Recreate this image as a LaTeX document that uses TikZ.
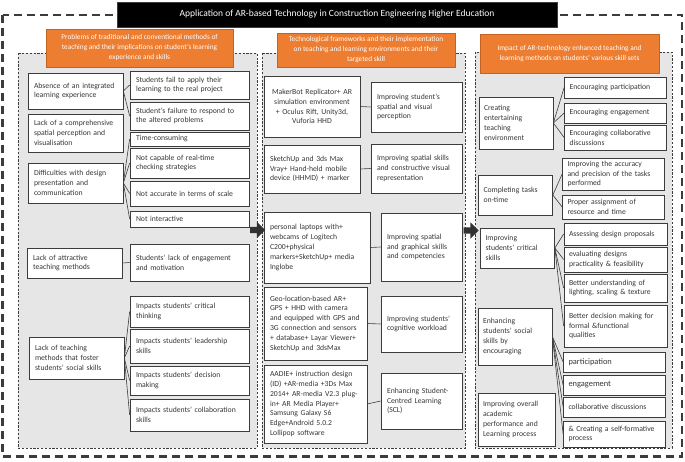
\documentclass[tikz,border=0pt]{standalone}
\usepackage{fontspec}
\setmainfont{Carlito}
\usepackage{tikz}
\usetikzlibrary{shapes.arrows,positioning}
\definecolor{cOrange}{RGB}{237,125,49}
\definecolor{cOrangeDk}{RGB}{196,98,34}
\definecolor{cPanel}{RGB}{231,230,230}
\definecolor{cLine}{RGB}{60,60,60}
\definecolor{cText}{RGB}{55,55,55}
\definecolor{cArrow}{RGB}{50,50,50}
\tikzset{
  cellbox/.style={rectangle,draw=cLine,fill=white,line width=0.7pt,text=cText,
                  align=left,inner xsep=6pt,inner ysep=1pt,
                  font=\fontsize{7.7}{9.8}\selectfont},
  probL/.style={cellbox,text width=83pt},
  probR/.style={cellbox,text width=107pt},
  techL/.style={cellbox,text width=84pt},
  techR/.style={cellbox,text width=69pt},
  impL/.style={cellbox,inner xsep=5pt,text width=64pt},
  impR/.style={cellbox,inner xsep=5pt,text width=92pt},
  headbox/.style={rectangle,draw=cOrangeDk,fill=cOrange,text=white,align=center,
                  inner sep=0pt,line width=0.5pt,font=\fontsize{7.3}{10}\selectfont},
  titlebox/.style={rectangle,draw=cLine,fill=black,text=white,inner sep=0pt,
                   font=\fontsize{9.5}{11}\selectfont},
  panel/.style={fill=cPanel,draw=cLine,line width=0.7pt,dash pattern=on 2.2pt off 1.6pt},
  outerframe/.style={draw=cLine,line width=2.6pt,dash pattern=on 8pt off 5pt},
  link/.style={draw=cLine,line width=0.6pt},
  flowarrow/.style={single arrow,fill=cArrow,draw=none,inner sep=3pt,
                    minimum height=15pt,single arrow head extend=5pt}
}
\begin{document}
\begin{tikzpicture}[x=1pt,y=-1pt]
  \useasboundingbox (0,0) rectangle (685,462);
  \draw[outerframe] (2.5,15) rectangle (682,456.5);
  \filldraw[panel] (18,53) rectangle (257,448);
  \filldraw[panel] (262,53) rectangle (465,448);
  \filldraw[panel] (475,52) rectangle (672,448);

  \node[titlebox,minimum width=440pt,minimum height=25pt] (title) at (337,14.5)
    {Application of AR-based Technology in Construction Engineering Higher Education};

  \node[headbox,minimum width=187pt,minimum height=38pt] (probhead) at (139.5,48)
    {Problems of traditional and conventional methods of\\teaching and their implications on student's learning\\experience and skills};
  \node[headbox,minimum width=178pt,minimum height=34pt] (techhead) at (366,50)
    {Technological frameworks and their implementation\\on teaching and learning environments and their\\targeted skill};
  \node[headbox,minimum width=179pt,minimum height=39pt] (imphead) at (569.5,53.5)
    {Impact of AR-technology enhanced teaching and\\learning methods on students' various skill sets};

  % problems
  \node[probL,minimum height=36pt] (absence) at (75.5,91) {Absence of an integrated\\learning experience};
  \node[probL,minimum height=38pt] (spatial) at (75.5,133) {Lack of a comprehensive\\spatial perception and\\visualisation};
  \node[probL,minimum height=40pt] (design) at (75.5,183) {Difficulties with design\\presentation and\\communication};
  \node[probL,minimum height=30pt] (attract) at (74.5,263) {Lack of attractive\\teaching methods};
  \node[probL,minimum height=42pt] (social) at (76.5,358) {Lack of teaching\\methods that foster\\students' social skills};

  \node[probR,minimum height=28pt] (failapply) at (189.5,85) {Students fail to apply their\\learning to the real project};
  \node[probR,minimum height=28pt] (failrespond) at (189.5,116) {Student's failure to respond to\\the altered problems};
  \node[probR,minimum height=14pt] (timecons) at (189.5,139) {Time-consuming};
  \node[probR,minimum height=30pt] (realtime) at (189.5,163) {Not capable of real-time\\checking strategies};
  \node[probR,minimum height=25pt] (scale) at (189.5,193.5) {Not accurate in terms of scale};
  \node[probR,minimum height=16pt] (interact) at (189.5,219) {Not interactive};
  \node[probR,minimum height=37pt] (engage) at (189.5,262.5) {Students' lack of engagement\\and motivation};
  \node[probR,minimum height=31pt] (critical) at (189.5,311.5) {Impacts students' critical\\thinking};
  \node[probR,minimum height=34pt] (leader) at (189.5,346) {Impacts students' leadership\\skills};
  \node[probR,minimum height=29pt] (decision) at (189.5,380.5) {Impacts students' decision\\making};
  \node[probR,minimum height=32pt] (collab) at (189.5,415) {Impacts students' collaboration\\skills};

  \foreach \t in {failapply,failrespond} \draw[link] (absence.east) -- (\t.west);
  \foreach \t in {timecons,realtime,scale,interact} \draw[link] (design.east) -- (\t.west);
  \draw[link] (attract.east) -- (engage.west);
  \foreach \t in {critical,leader,decision,collab} \draw[link] (social.east) -- (\t.west);

  % frameworks
  \node[techL,align=center,minimum height=61pt] (makerbot) at (312,106.5) {MakerBot Replicator+ AR\\simulation environment\\+ Oculus Rift, Unity3d,\\Vuforia HHD};
  \node[techL,minimum height=48pt] (sketchup) at (312,169) {SketchUp and 3ds Max\\Vray+ Hand-held mobile\\device (HHMD) + marker};
  \node[techL,text width=94pt,minimum height=71pt] (laptops) at (317,247.5) {personal laptops with+\\webcams of Logitech\\C200+physical\\markers+SketchUp+ media\\Inglobe};
  \node[techL,text width=91pt,minimum height=73pt] (geoloc) at (315.5,323.5) {Geo-location-based AR+\\GPS + HHD with camera\\and equipped with GPS and\\3G connection and sensors\\+ database+ Layar Viewer+\\SketchUp and 3dsMax};
  \node[techL,text width=91pt,minimum height=78pt] (aadie) at (315.5,404) {AADIE+ instruction design\\(ID) +AR-media +3Ds Max\\2014+ AR-media V2.3 plug-\\in+ AR Media Player+\\Samsung Galaxy S6\\Edge+Android 5.0.2\\Lollipop software};

  \node[techR,text width=79pt,minimum height=50pt] (spatvis) at (416.5,107) {Improving student's\\spatial and visual\\perception};
  \node[techR,text width=79pt,minimum height=49pt] (spatcons) at (416.5,168.5) {Improving spatial skills\\and constructive visual\\representation};
  \node[techR,minimum height=68pt] (graph) at (421.5,247) {Improving spatial\\and graphical skills\\and competencies};
  \node[techR,minimum height=56pt] (cognit) at (421.5,324) {Improving students'\\cognitive workload};
  \node[techR,minimum height=56pt] (scl) at (421.5,401) {Enhancing Student-\\Centred Learning\\(SCL)};

  \draw[link] (makerbot.east) -- (spatvis.west);
  \draw[link] (sketchup.east) -- (spatcons.west);
  \draw[link] (laptops.east) -- (graph.west);
  \draw[link] (geoloc.east) -- (cognit.west);
  \draw[link] (aadie.east) -- (scl.west);

  % impact
  \node[impL,minimum height=52pt] (entertain) at (516,123) {Creating\\entertaining\\teaching\\environment};
  \node[impL,minimum height=40pt] (ontime) at (515.5,195) {Completing tasks\\on-time};
  \node[impL,minimum height=40pt] (critskill) at (517.5,248) {Improving\\students' critical\\skills};
  \node[impL,minimum height=57pt] (socskill) at (515,336.5) {Enhancing\\students' social\\skills by\\encouraging};
  \node[impL,text width=67pt,minimum height=53pt] (overall) at (516.5,419.5) {Improving overall\\academic\\performance and\\Learning process};

  \node[impR,minimum height=21pt] (encpart) at (615.5,87.5) {Encouraging participation};
  \node[impR,minimum height=20pt] (enceng) at (615.5,113) {Encouraging engagement};
  \node[impR,minimum height=25pt] (enccoll) at (615.5,137.5) {Encouraging collaborative\\discussions};
  \node[impR,minimum height=32pt] (accur) at (613.5,174) {Improving the accuracy\\and precision of the tasks\\performed};
  \node[impR,minimum height=24pt] (assign) at (613.5,207) {Proper assignment of\\resource and time};
  \node[impR,text width=93pt,minimum height=22pt] (assess) at (615.5,234) {Assessing design proposals};
  \node[impR,text width=93pt,minimum height=25pt] (evalu) at (615.5,259.5) {evaluating designs\\practicality \& feasibility};
  \node[impR,text width=93pt,minimum height=28pt] (lighting) at (615.5,288) {Better understanding of\\lighting, scaling \& texture};
  \node[impR,text width=93pt,minimum height=42pt] (formal) at (615.5,326) {Better decision making for\\formal \&functional\\qualities};
  \node[impR,font=\fontsize{8.4}{9.8}\selectfont,minimum height=20pt] (partic) at (614.5,362) {participation};
  \node[impR,font=\fontsize{8.4}{9.8}\selectfont,minimum height=20pt] (engmt) at (614.5,385) {engagement};
  \node[impR,minimum height=20pt] (colldisc) at (614.5,407) {collaborative discussions};
  \node[impR,minimum height=26pt] (selfform) at (614.5,434) {\& Creating a self-formative\\process};

  \foreach \t in {encpart,enceng,enccoll} \draw[link] (entertain.east) -- (\t.west);
  \foreach \t in {accur,assign} \draw[link] (ontime.east) -- (\t.west);
  \foreach \t in {assess,evalu,lighting,formal} \draw[link] (critskill.east) -- (\t.west);
  \foreach \t in {partic,engmt,colldisc,selfform} \draw[link] (socskill.east) -- (\t.west);

  \node[flowarrow] (arrone) at (256,230) {};
  \node[flowarrow] (arrtwo) at (469.5,230.5) {};
\end{tikzpicture}
\end{document}
